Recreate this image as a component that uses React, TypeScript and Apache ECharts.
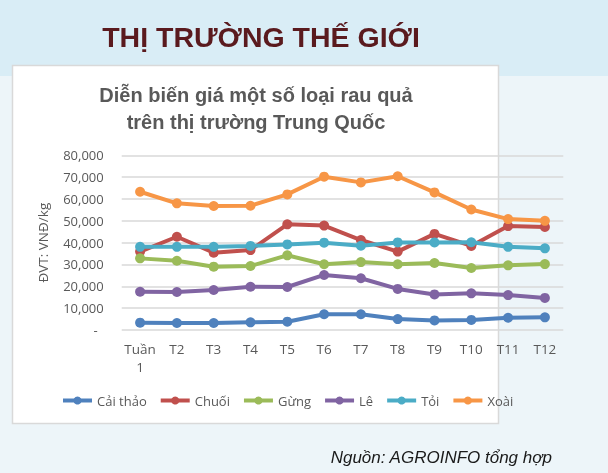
import React, { useEffect, useRef } from "react";
import * as echarts from "echarts";

const categories = ["Tuần\n1", "T2", "T3", "T4", "T5", "T6", "T7", "T8", "T9", "T10", "T11", "T12"];
const caiThao = [3350, 3200, 3200, 3500, 3800, 7200, 7200, 5000, 4400, 4600, 5600, 5800];
const chuoi = [35900, 42700, 35400, 36600, 48400, 47800, 41200, 35900, 44000, 38500, 47600, 47200];
const gung = [32800, 31700, 29000, 29300, 34200, 30100, 31100, 30100, 30700, 28400, 29600, 30200];
const le = [17500, 17400, 18300, 19800, 19700, 25200, 23700, 18800, 16300, 16800, 16000, 14700];
const toi = [38100, 38100, 38100, 38500, 39200, 40000, 38600, 40100, 40100, 40200, 38100, 37400];
const xoai = [63300, 58000, 56800, 56900, 62100, 70200, 67600, 70400, 63000, 55200, 50800, 50000];

const seriesNames = ["Cải thảo", "Chuối", "Gừng", "Lê", "Tỏi", "Xoài"];
const seriesData = [caiThao, chuoi, gung, le, toi, xoai];
const colors = ["#4f81bd", "#c0504d", "#9bbb59", "#8064a2", "#4bacc6", "#f79646"];

const FONT = "'Open Sans', sans-serif";

export default function App() {
  const ref = useRef<HTMLDivElement>(null);
  useEffect(() => {
    if (!ref.current) return;
    const chart = echarts.init(ref.current, null, { renderer: "svg" });
    chart.setOption({
      animation: false,
      graphic: [
        { type: "rect", z: -10, shape: { x: 0, y: 0, width: 608, height: 76 }, style: { fill: "#d9edf6" } },
        { type: "rect", z: -10, shape: { x: 0, y: 76, width: 608, height: 397 }, style: { fill: "#edf5f9" } },
        {
          type: "rect", z: -9,
          shape: { x: 12.5, y: 65.5, width: 486, height: 358 },
          style: { fill: "#ffffff", stroke: "#d9d9d9", lineWidth: 1.5 },
        },
        {
          type: "text", x: 261, y: 37, z: 5,
          style: {
            text: "THỊ TRƯỜNG THẾ GIỚI", fill: "#5a1a1e", font: "bold 28.5px 'Liberation Sans', Arial, sans-serif",
            align: "center", verticalAlign: "middle",
          },
        },
        {
          type: "text", x: 256, y: 95, z: 5,
          style: {
            text: "Diễn biến giá một số loại rau quả", fill: "#595959", font: "bold 20px 'Liberation Sans', Arial, sans-serif",
            align: "center", verticalAlign: "middle",
          },
        },
        {
          type: "text", x: 256, y: 122, z: 5,
          style: {
            text: "trên thị trường Trung Quốc", fill: "#595959", font: "bold 20px 'Liberation Sans', Arial, sans-serif",
            align: "center", verticalAlign: "middle",
          },
        },
        {
          type: "text", x: 552, y: 457, z: 5,
          style: {
            text: "Nguồn: AGROINFO tổng hợp", fill: "#1a1a1a", font: "italic 17px 'Liberation Sans', Arial, sans-serif",
            align: "right", verticalAlign: "middle",
          },
        },
      ],
      grid: { left: 121.7, right: 44.7, top: 155.3, bottom: 143 },
      legend: {
        left: 56, top: 389,
        itemWidth: 29, itemHeight: 10, itemGap: 12,
        lineStyle: { width: 4 },
        textStyle: { color: "#595959", fontSize: 13, fontFamily: FONT },
        data: seriesNames,
      },
      xAxis: {
        type: "category",
        data: categories,
        boundaryGap: true,
        axisLine: { show: false },
        axisTick: { show: false },
        axisLabel: {
          color: "#595959", fontSize: 13.5, fontFamily: FONT,
          margin: 10, lineHeight: 18, interval: 0,
        },
      },
      yAxis: {
        type: "value",
        min: 0, max: 80000, interval: 10000,
        name: "ĐVT: VNĐ/kg",
        nameLocation: "middle",
        nameGap: 72,
        nameTextStyle: { color: "#595959", fontSize: 13.5, fontFamily: FONT },
        axisLine: { show: false },
        axisTick: { show: false },
        splitLine: { lineStyle: { color: "#d9d9d9", width: 1.5 } },
        axisLabel: {
          color: "#595959", fontSize: 13, fontFamily: FONT, margin: 18,
          formatter: (v: number) => (v === 0 ? "{d|-}" : v.toLocaleString("en-US")),
          rich: { d: { color: "#595959", fontSize: 13, fontFamily: FONT, padding: [0, 6, 0, 0] } },
        },
      },
      series: seriesNames.map((name, i) => ({
        name,
        type: "line",
        data: seriesData[i],
        color: colors[i],
        symbol: "circle",
        symbolSize: 10,
        lineStyle: { width: 4, color: colors[i] },
        itemStyle: { color: colors[i] },
      })),
    });
    return () => chart.dispose();
  }, []);
  return <div ref={ref} style={{ position: "fixed", left: 0, top: 0, width: 608, height: 473 }} />;
}
